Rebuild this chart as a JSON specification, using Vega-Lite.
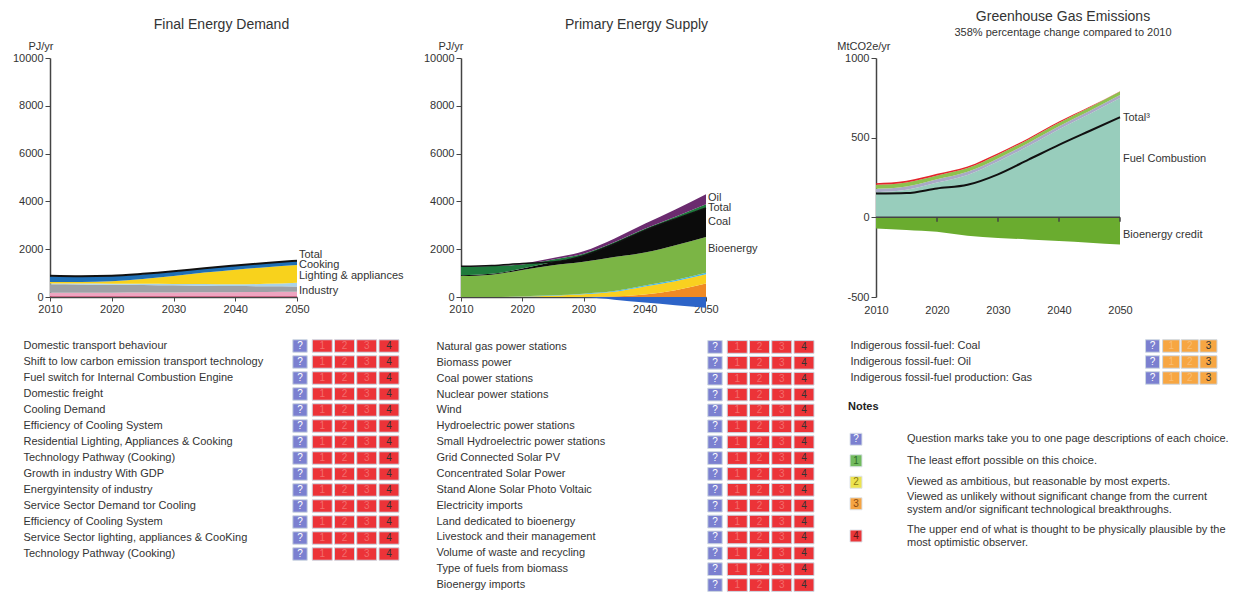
{
"$schema": "https://vega.github.io/schema/vega-lite/v6.json",
"background": "white",
"padding": {"left": 12, "top": 10, "right": 0, "bottom": 0},
"columns": 3,
"bounds": "flush",
"align": "each",
"spacing": {"row": 42, "column": 62},
"resolve": {"scale": {"color": "independent", "fill": "independent"}},
"config": {
  "font": "Liberation Sans",
  "view": {"stroke": null},
  "axis": {"labelFont": "Liberation Sans", "labelFontSize": 11, "labelColor": "#333333", "domainColor": "#444444", "tickColor": "#444444", "grid": false, "titleFont": "Liberation Sans", "titleFontWeight": "normal", "titleFontSize": 11, "titleColor": "#333333", "zindex": 1},
  "title": {"font": "Liberation Sans", "fontSize": 14, "fontWeight": "normal", "color": "#333333", "subtitleFont": "Liberation Sans", "subtitleColor": "#333333"},
  "text": {"font": "Liberation Sans"}
},
"datasets": {
  "fed": [
    {"series":"Transport","year":2010,"lo":0,"hi":30},{"series":"Transport","year":2015,"lo":0,"hi":30},{"series":"Transport","year":2020,"lo":0,"hi":30},{"series":"Transport","year":2025,"lo":0,"hi":30},{"series":"Transport","year":2030,"lo":0,"hi":30},{"series":"Transport","year":2035,"lo":0,"hi":30},{"series":"Transport","year":2040,"lo":0,"hi":30},{"series":"Transport","year":2045,"lo":0,"hi":30},{"series":"Transport","year":2050,"lo":0,"hi":30},
    {"series":"Industry","year":2010,"lo":30,"hi":180},{"series":"Industry","year":2015,"lo":30,"hi":180},{"series":"Industry","year":2020,"lo":30,"hi":180},{"series":"Industry","year":2025,"lo":30,"hi":185},{"series":"Industry","year":2030,"lo":30,"hi":190},{"series":"Industry","year":2035,"lo":30,"hi":195},{"series":"Industry","year":2040,"lo":30,"hi":200},{"series":"Industry","year":2045,"lo":30,"hi":210},{"series":"Industry","year":2050,"lo":30,"hi":220},
    {"series":"Industry other","year":2010,"lo":180,"hi":530},{"series":"Industry other","year":2015,"lo":180,"hi":520},{"series":"Industry other","year":2020,"lo":180,"hi":510},{"series":"Industry other","year":2025,"lo":185,"hi":505},{"series":"Industry other","year":2030,"lo":190,"hi":490},{"series":"Industry other","year":2035,"lo":195,"hi":475},{"series":"Industry other","year":2040,"lo":200,"hi":460},{"series":"Industry other","year":2045,"lo":210,"hi":450},{"series":"Industry other","year":2050,"lo":220,"hi":440},
    {"series":"Heating","year":2010,"lo":530,"hi":570},{"series":"Heating","year":2015,"lo":520,"hi":560},{"series":"Heating","year":2020,"lo":510,"hi":555},{"series":"Heating","year":2025,"lo":505,"hi":555},{"series":"Heating","year":2030,"lo":490,"hi":545},{"series":"Heating","year":2035,"lo":475,"hi":540},{"series":"Heating","year":2040,"lo":460,"hi":530},{"series":"Heating","year":2045,"lo":450,"hi":550},{"series":"Heating","year":2050,"lo":440,"hi":600},
    {"series":"Lighting & appliances","year":2010,"lo":570,"hi":630},{"series":"Lighting & appliances","year":2015,"lo":560,"hi":625},{"series":"Lighting & appliances","year":2020,"lo":555,"hi":655},{"series":"Lighting & appliances","year":2025,"lo":555,"hi":755},{"series":"Lighting & appliances","year":2030,"lo":545,"hi":880},{"series":"Lighting & appliances","year":2035,"lo":540,"hi":1020},{"series":"Lighting & appliances","year":2040,"lo":530,"hi":1145},{"series":"Lighting & appliances","year":2045,"lo":550,"hi":1250},{"series":"Lighting & appliances","year":2050,"lo":600,"hi":1340},
    {"series":"Cooking","year":2010,"lo":630,"hi":870},{"series":"Cooking","year":2015,"lo":625,"hi":855},{"series":"Cooking","year":2020,"lo":655,"hi":875},{"series":"Cooking","year":2025,"lo":755,"hi":955},{"series":"Cooking","year":2030,"lo":880,"hi":1060},{"series":"Cooking","year":2035,"lo":1020,"hi":1190},{"series":"Cooking","year":2040,"lo":1145,"hi":1305},{"series":"Cooking","year":2045,"lo":1250,"hi":1410},{"series":"Cooking","year":2050,"lo":1340,"hi":1505}
  ],
  "fedTotal": [
    {"year":2010,"value":885},{"year":2015,"value":868},{"year":2020,"value":888},{"year":2025,"value":968},{"year":2030,"value":1075},{"year":2035,"value":1205},{"year":2040,"value":1318},{"year":2045,"value":1423},{"year":2050,"value":1518}
  ],
  "fedLabels": [
    {"label":"Total","value":1743},{"label":"Cooking","value":1325},{"label":"Lighting & appliances","value":865},{"label":"Industry","value":250}
  ],
  "pes": [
    {"series":"Solar","year":2010,"lo":0,"hi":0},{"series":"Solar","year":2015,"lo":0,"hi":0},{"series":"Solar","year":2020,"lo":0,"hi":0},{"series":"Solar","year":2025,"lo":0,"hi":0},{"series":"Solar","year":2030,"lo":0,"hi":0},{"series":"Solar","year":2035,"lo":0,"hi":20},{"series":"Solar","year":2040,"lo":0,"hi":100},{"series":"Solar","year":2045,"lo":0,"hi":280},{"series":"Solar","year":2050,"lo":0,"hi":560},
    {"series":"Wind","year":2010,"lo":0,"hi":0},{"series":"Wind","year":2015,"lo":0,"hi":0},{"series":"Wind","year":2020,"lo":0,"hi":20},{"series":"Wind","year":2025,"lo":0,"hi":50},{"series":"Wind","year":2030,"lo":0,"hi":110},{"series":"Wind","year":2035,"lo":20,"hi":220},{"series":"Wind","year":2040,"lo":100,"hi":440},{"series":"Wind","year":2045,"lo":280,"hi":660},{"series":"Wind","year":2050,"lo":560,"hi":950},
    {"series":"Hydro","year":2010,"lo":0,"hi":0},{"series":"Hydro","year":2015,"lo":0,"hi":0},{"series":"Hydro","year":2020,"lo":20,"hi":30},{"series":"Hydro","year":2025,"lo":50,"hi":70},{"series":"Hydro","year":2030,"lo":110,"hi":140},{"series":"Hydro","year":2035,"lo":220,"hi":250},{"series":"Hydro","year":2040,"lo":440,"hi":480},{"series":"Hydro","year":2045,"lo":660,"hi":710},{"series":"Hydro","year":2050,"lo":950,"hi":1010},
    {"series":"Bioenergy","year":2010,"lo":0,"hi":875},{"series":"Bioenergy","year":2015,"lo":0,"hi":930},{"series":"Bioenergy","year":2020,"lo":30,"hi":1130},{"series":"Bioenergy","year":2025,"lo":70,"hi":1330},{"series":"Bioenergy","year":2030,"lo":140,"hi":1470},{"series":"Bioenergy","year":2035,"lo":250,"hi":1670},{"series":"Bioenergy","year":2040,"lo":480,"hi":1860},{"series":"Bioenergy","year":2045,"lo":710,"hi":2170},{"series":"Bioenergy","year":2050,"lo":1010,"hi":2510},
    {"series":"Coal","year":2010,"lo":875,"hi":915},{"series":"Coal","year":2015,"lo":930,"hi":970},{"series":"Coal","year":2020,"lo":1130,"hi":1190},{"series":"Coal","year":2025,"lo":1330,"hi":1460},{"series":"Coal","year":2030,"lo":1470,"hi":1730},{"series":"Coal","year":2035,"lo":1670,"hi":2220},{"series":"Coal","year":2040,"lo":1860,"hi":2790},{"series":"Coal","year":2045,"lo":2170,"hi":3270},{"series":"Coal","year":2050,"lo":2510,"hi":3730},
    {"series":"Gas","year":2010,"lo":915,"hi":1265},{"series":"Gas","year":2015,"lo":970,"hi":1300},{"series":"Gas","year":2020,"lo":1190,"hi":1360},{"series":"Gas","year":2025,"lo":1460,"hi":1570},{"series":"Gas","year":2030,"lo":1730,"hi":1810},{"series":"Gas","year":2035,"lo":2220,"hi":2290},{"series":"Gas","year":2040,"lo":2790,"hi":2860},{"series":"Gas","year":2045,"lo":3270,"hi":3360},{"series":"Gas","year":2050,"lo":3730,"hi":3880},
    {"series":"Oil","year":2010,"lo":1265,"hi":1285},{"series":"Oil","year":2015,"lo":1300,"hi":1320},{"series":"Oil","year":2020,"lo":1360,"hi":1400},{"series":"Oil","year":2025,"lo":1570,"hi":1630},{"series":"Oil","year":2030,"lo":1810,"hi":1910},{"series":"Oil","year":2035,"lo":2290,"hi":2440},{"series":"Oil","year":2040,"lo":2860,"hi":3060},{"series":"Oil","year":2045,"lo":3360,"hi":3660},{"series":"Oil","year":2050,"lo":3880,"hi":4300}
  ],
  "pesExports": [
    {"year":2010,"value":0},{"year":2015,"value":0},{"year":2020,"value":0},{"year":2025,"value":0},{"year":2030,"value":-15},{"year":2035,"value":-110},{"year":2040,"value":-230},{"year":2045,"value":-340},{"year":2050,"value":-450}
  ],
  "pesTotal": [
    {"year":2010,"value":1285},{"year":2015,"value":1320},{"year":2020,"value":1400},{"year":2025,"value":1460},{"year":2030,"value":1730},{"year":2035,"value":2220},{"year":2040,"value":2790},{"year":2045,"value":3270},{"year":2050,"value":3730}
  ],
  "pesLabels": [
    {"label":"Oil","value":4155},{"label":"Total","value":3710},{"label":"Coal","value":3138},{"label":"Bioenergy","value":1995}
  ],
  "ghg": [
    {"series":"Fuel Combustion","year":2010,"lo":0,"hi":158},{"series":"Fuel Combustion","year":2015,"lo":0,"hi":173},{"series":"Fuel Combustion","year":2020,"lo":0,"hi":218},{"series":"Fuel Combustion","year":2025,"lo":0,"hi":266},{"series":"Fuel Combustion","year":2030,"lo":0,"hi":350},{"series":"Fuel Combustion","year":2035,"lo":0,"hi":447},{"series":"Fuel Combustion","year":2040,"lo":0,"hi":553},{"series":"Fuel Combustion","year":2045,"lo":0,"hi":649},{"series":"Fuel Combustion","year":2050,"lo":0,"hi":749},
    {"series":"Industrial processes","year":2010,"lo":158,"hi":179},{"series":"Industrial processes","year":2015,"lo":173,"hi":194},{"series":"Industrial processes","year":2020,"lo":218,"hi":239},{"series":"Industrial processes","year":2025,"lo":266,"hi":286},{"series":"Industrial processes","year":2030,"lo":350,"hi":370},{"series":"Industrial processes","year":2035,"lo":447,"hi":467},{"series":"Industrial processes","year":2040,"lo":553,"hi":572},{"series":"Industrial processes","year":2045,"lo":649,"hi":668},{"series":"Industrial processes","year":2050,"lo":749,"hi":768},
    {"series":"Agriculture","year":2010,"lo":179,"hi":204},{"series":"Agriculture","year":2015,"lo":194,"hi":219},{"series":"Agriculture","year":2020,"lo":239,"hi":263},{"series":"Agriculture","year":2025,"lo":286,"hi":309},{"series":"Agriculture","year":2030,"lo":370,"hi":393},{"series":"Agriculture","year":2035,"lo":467,"hi":489},{"series":"Agriculture","year":2040,"lo":572,"hi":594},{"series":"Agriculture","year":2045,"lo":668,"hi":689},{"series":"Agriculture","year":2050,"lo":768,"hi":789},
    {"series":"Waste","year":2010,"lo":204,"hi":214},{"series":"Waste","year":2015,"lo":219,"hi":229},{"series":"Waste","year":2020,"lo":263,"hi":273},{"series":"Waste","year":2025,"lo":309,"hi":319},{"series":"Waste","year":2030,"lo":393,"hi":402},{"series":"Waste","year":2035,"lo":489,"hi":497},{"series":"Waste","year":2040,"lo":594,"hi":601},{"series":"Waste","year":2045,"lo":689,"hi":694},{"series":"Waste","year":2050,"lo":789,"hi":792}
  ],
  "ghgCredit": [
    {"year":2010,"value":-70},{"year":2015,"value":-80},{"year":2020,"value":-91},{"year":2025,"value":-116},{"year":2030,"value":-129},{"year":2035,"value":-139},{"year":2040,"value":-149},{"year":2045,"value":-160},{"year":2050,"value":-171}
  ],
  "ghgTotal": [
    {"year":2010,"value":149},{"year":2015,"value":152},{"year":2020,"value":181},{"year":2025,"value":204},{"year":2030,"value":270},{"year":2035,"value":362},{"year":2040,"value":455},{"year":2045,"value":542},{"year":2050,"value":628}
  ],
  "ghgLabels": [
    {"label":"Total³","value":624},{"label":"Fuel Combustion","value":364},{"label":"Bioenergy credit","value":-108}
  ],
  "t1": [
    {"item":"01|Domestic transport behaviour","box":"?"},{"item":"01|Domestic transport behaviour","box":"1"},{"item":"01|Domestic transport behaviour","box":"2"},{"item":"01|Domestic transport behaviour","box":"3"},{"item":"01|Domestic transport behaviour","box":"4"},
    {"item":"02|Shift to low carbon emission transport technology","box":"?"},{"item":"02|Shift to low carbon emission transport technology","box":"1"},{"item":"02|Shift to low carbon emission transport technology","box":"2"},{"item":"02|Shift to low carbon emission transport technology","box":"3"},{"item":"02|Shift to low carbon emission transport technology","box":"4"},
    {"item":"03|Fuel switch for Internal Combustion Engine","box":"?"},{"item":"03|Fuel switch for Internal Combustion Engine","box":"1"},{"item":"03|Fuel switch for Internal Combustion Engine","box":"2"},{"item":"03|Fuel switch for Internal Combustion Engine","box":"3"},{"item":"03|Fuel switch for Internal Combustion Engine","box":"4"},
    {"item":"04|Domestic freight","box":"?"},{"item":"04|Domestic freight","box":"1"},{"item":"04|Domestic freight","box":"2"},{"item":"04|Domestic freight","box":"3"},{"item":"04|Domestic freight","box":"4"},
    {"item":"05|Cooling Demand","box":"?"},{"item":"05|Cooling Demand","box":"1"},{"item":"05|Cooling Demand","box":"2"},{"item":"05|Cooling Demand","box":"3"},{"item":"05|Cooling Demand","box":"4"},
    {"item":"06|Efficiency of Cooling System","box":"?"},{"item":"06|Efficiency of Cooling System","box":"1"},{"item":"06|Efficiency of Cooling System","box":"2"},{"item":"06|Efficiency of Cooling System","box":"3"},{"item":"06|Efficiency of Cooling System","box":"4"},
    {"item":"07|Residential Lighting, Appliances & Cooking","box":"?"},{"item":"07|Residential Lighting, Appliances & Cooking","box":"1"},{"item":"07|Residential Lighting, Appliances & Cooking","box":"2"},{"item":"07|Residential Lighting, Appliances & Cooking","box":"3"},{"item":"07|Residential Lighting, Appliances & Cooking","box":"4"},
    {"item":"08|Technology Pathway (Cooking)","box":"?"},{"item":"08|Technology Pathway (Cooking)","box":"1"},{"item":"08|Technology Pathway (Cooking)","box":"2"},{"item":"08|Technology Pathway (Cooking)","box":"3"},{"item":"08|Technology Pathway (Cooking)","box":"4"},
    {"item":"09|Growth in industry With GDP","box":"?"},{"item":"09|Growth in industry With GDP","box":"1"},{"item":"09|Growth in industry With GDP","box":"2"},{"item":"09|Growth in industry With GDP","box":"3"},{"item":"09|Growth in industry With GDP","box":"4"},
    {"item":"10|Energyintensity of industry","box":"?"},{"item":"10|Energyintensity of industry","box":"1"},{"item":"10|Energyintensity of industry","box":"2"},{"item":"10|Energyintensity of industry","box":"3"},{"item":"10|Energyintensity of industry","box":"4"},
    {"item":"11|Service Sector Demand tor Cooling","box":"?"},{"item":"11|Service Sector Demand tor Cooling","box":"1"},{"item":"11|Service Sector Demand tor Cooling","box":"2"},{"item":"11|Service Sector Demand tor Cooling","box":"3"},{"item":"11|Service Sector Demand tor Cooling","box":"4"},
    {"item":"12|Efficiency of Cooling System","box":"?"},{"item":"12|Efficiency of Cooling System","box":"1"},{"item":"12|Efficiency of Cooling System","box":"2"},{"item":"12|Efficiency of Cooling System","box":"3"},{"item":"12|Efficiency of Cooling System","box":"4"},
    {"item":"13|Service Sector lighting, appliances & CooKing","box":"?"},{"item":"13|Service Sector lighting, appliances & CooKing","box":"1"},{"item":"13|Service Sector lighting, appliances & CooKing","box":"2"},{"item":"13|Service Sector lighting, appliances & CooKing","box":"3"},{"item":"13|Service Sector lighting, appliances & CooKing","box":"4"},
    {"item":"14|Technology Pathway (Cooking)","box":"?"},{"item":"14|Technology Pathway (Cooking)","box":"1"},{"item":"14|Technology Pathway (Cooking)","box":"2"},{"item":"14|Technology Pathway (Cooking)","box":"3"},{"item":"14|Technology Pathway (Cooking)","box":"4"}
  ],
  "t2": [
    {"item":"01|Natural gas power stations","box":"?"},{"item":"01|Natural gas power stations","box":"1"},{"item":"01|Natural gas power stations","box":"2"},{"item":"01|Natural gas power stations","box":"3"},{"item":"01|Natural gas power stations","box":"4"},
    {"item":"02|Biomass power","box":"?"},{"item":"02|Biomass power","box":"1"},{"item":"02|Biomass power","box":"2"},{"item":"02|Biomass power","box":"3"},{"item":"02|Biomass power","box":"4"},
    {"item":"03|Coal power stations","box":"?"},{"item":"03|Coal power stations","box":"1"},{"item":"03|Coal power stations","box":"2"},{"item":"03|Coal power stations","box":"3"},{"item":"03|Coal power stations","box":"4"},
    {"item":"04|Nuclear power stations","box":"?"},{"item":"04|Nuclear power stations","box":"1"},{"item":"04|Nuclear power stations","box":"2"},{"item":"04|Nuclear power stations","box":"3"},{"item":"04|Nuclear power stations","box":"4"},
    {"item":"05|Wind","box":"?"},{"item":"05|Wind","box":"1"},{"item":"05|Wind","box":"2"},{"item":"05|Wind","box":"3"},{"item":"05|Wind","box":"4"},
    {"item":"06|Hydroelectric power stations","box":"?"},{"item":"06|Hydroelectric power stations","box":"1"},{"item":"06|Hydroelectric power stations","box":"2"},{"item":"06|Hydroelectric power stations","box":"3"},{"item":"06|Hydroelectric power stations","box":"4"},
    {"item":"07|Small Hydroelectric power stations","box":"?"},{"item":"07|Small Hydroelectric power stations","box":"1"},{"item":"07|Small Hydroelectric power stations","box":"2"},{"item":"07|Small Hydroelectric power stations","box":"3"},{"item":"07|Small Hydroelectric power stations","box":"4"},
    {"item":"08|Grid Connected Solar PV","box":"?"},{"item":"08|Grid Connected Solar PV","box":"1"},{"item":"08|Grid Connected Solar PV","box":"2"},{"item":"08|Grid Connected Solar PV","box":"3"},{"item":"08|Grid Connected Solar PV","box":"4"},
    {"item":"09|Concentrated Solar Power","box":"?"},{"item":"09|Concentrated Solar Power","box":"1"},{"item":"09|Concentrated Solar Power","box":"2"},{"item":"09|Concentrated Solar Power","box":"3"},{"item":"09|Concentrated Solar Power","box":"4"},
    {"item":"10|Stand Alone Solar Photo Voltaic","box":"?"},{"item":"10|Stand Alone Solar Photo Voltaic","box":"1"},{"item":"10|Stand Alone Solar Photo Voltaic","box":"2"},{"item":"10|Stand Alone Solar Photo Voltaic","box":"3"},{"item":"10|Stand Alone Solar Photo Voltaic","box":"4"},
    {"item":"11|Electricity imports","box":"?"},{"item":"11|Electricity imports","box":"1"},{"item":"11|Electricity imports","box":"2"},{"item":"11|Electricity imports","box":"3"},{"item":"11|Electricity imports","box":"4"},
    {"item":"12|Land dedicated to bioenergy","box":"?"},{"item":"12|Land dedicated to bioenergy","box":"1"},{"item":"12|Land dedicated to bioenergy","box":"2"},{"item":"12|Land dedicated to bioenergy","box":"3"},{"item":"12|Land dedicated to bioenergy","box":"4"},
    {"item":"13|Livestock and their management","box":"?"},{"item":"13|Livestock and their management","box":"1"},{"item":"13|Livestock and their management","box":"2"},{"item":"13|Livestock and their management","box":"3"},{"item":"13|Livestock and their management","box":"4"},
    {"item":"14|Volume of waste and recycling","box":"?"},{"item":"14|Volume of waste and recycling","box":"1"},{"item":"14|Volume of waste and recycling","box":"2"},{"item":"14|Volume of waste and recycling","box":"3"},{"item":"14|Volume of waste and recycling","box":"4"},
    {"item":"15|Type of fuels from biomass","box":"?"},{"item":"15|Type of fuels from biomass","box":"1"},{"item":"15|Type of fuels from biomass","box":"2"},{"item":"15|Type of fuels from biomass","box":"3"},{"item":"15|Type of fuels from biomass","box":"4"},
    {"item":"16|Bioenergy imports","box":"?"},{"item":"16|Bioenergy imports","box":"1"},{"item":"16|Bioenergy imports","box":"2"},{"item":"16|Bioenergy imports","box":"3"},{"item":"16|Bioenergy imports","box":"4"}
  ],
  "t3": [
    {"item":"1|Indigerous fossil-fuel: Coal","box":"?"},{"item":"1|Indigerous fossil-fuel: Coal","box":"1"},{"item":"1|Indigerous fossil-fuel: Coal","box":"2"},{"item":"1|Indigerous fossil-fuel: Coal","box":"3"},
    {"item":"2|Indigerous fossil-fuel: Oil","box":"?"},{"item":"2|Indigerous fossil-fuel: Oil","box":"1"},{"item":"2|Indigerous fossil-fuel: Oil","box":"2"},{"item":"2|Indigerous fossil-fuel: Oil","box":"3"},
    {"item":"3|Indigerous fossil-fuel production: Gas","box":"?"},{"item":"3|Indigerous fossil-fuel production: Gas","box":"1"},{"item":"3|Indigerous fossil-fuel production: Gas","box":"2"},{"item":"3|Indigerous fossil-fuel production: Gas","box":"3"}
  ],
  "notes": [
    {"key":"?","desc":"Question marks take you to one page descriptions of each choice."},
    {"key":"1","desc":"The least effort possible on this choice."},
    {"key":"2","desc":"Viewed as ambitious, but reasonable by most experts."},
    {"key":"3","desc":"Viewed as unlikely without significant change from the current\nsystem and/or significant technological breakthroughs."},
    {"key":"4","desc":"The upper end of what is thought to be physically plausible by the\nmost optimistic observer."}
  ]
},
"concat": [
  {
    "width": 247, "height": 239,
    "title": {"text": "Final Energy Demand", "anchor": "middle", "frame": "group", "dx": 48, "offset": 8},
    "layer": [
      {"data": {"name": "fed"}, "mark": {"type": "area", "interpolate": "monotone"},
       "encoding": {
         "x": {"field": "year", "type": "quantitative", "scale": {"domain": [2010, 2050], "nice": false, "zero": false},
               "axis": {"values": [2010, 2020, 2030, 2040, 2050], "format": "d", "title": null, "tickSize": 4, "labelPadding": 2, "labelFlush": false, "domainWidth": 1.5}},
         "y": {"field": "hi", "type": "quantitative", "scale": {"domain": [0, 10000], "nice": false},
               "axis": {"values": [0, 2000, 4000, 6000, 8000, 10000], "format": "d", "title": "PJ/yr", "titleAngle": 0, "titleAlign": "right", "titleBaseline": "alphabetic", "titleX": 3, "titleY": -9, "tickSize": 5, "labelPadding": 2, "domainWidth": 1.5}},
         "y2": {"field": "lo"},
         "color": {"field": "series", "type": "nominal",
                   "scale": {"domain": ["Transport", "Industry", "Industry other", "Heating", "Lighting & appliances", "Cooking"], "range": ["#b3264f", "#eea4c0", "#9da1a6", "#a9d2e8", "#f8d21c", "#1f6fb5"]}, "legend": null}
       }},
      {"data": {"name": "fedTotal"}, "mark": {"type": "line", "color": "#111111", "strokeWidth": 2, "interpolate": "monotone"},
       "encoding": {"x": {"field": "year", "type": "quantitative"}, "y": {"field": "value", "type": "quantitative"}}},
      {"data": {"name": "fedLabels"}, "mark": {"type": "text", "align": "left", "baseline": "middle", "dx": 2, "fontSize": 11, "color": "#333333"},
       "encoding": {"x": {"datum": 2050, "type": "quantitative"}, "y": {"field": "value", "type": "quantitative"}, "text": {"field": "label", "type": "nominal"}}}
    ]
  },
  {
    "width": 245, "height": 239,
    "title": {"text": "Primary Energy Supply", "anchor": "middle", "frame": "group", "dx": 53, "offset": 8},
    "layer": [
      {"data": {"name": "pes"}, "mark": {"type": "area", "interpolate": "monotone"},
       "encoding": {
         "x": {"field": "year", "type": "quantitative", "scale": {"domain": [2010, 2050], "nice": false, "zero": false},
               "axis": {"values": [2010, 2020, 2030, 2040, 2050], "format": "d", "title": null, "tickSize": 4, "labelPadding": 2, "labelFlush": false, "domainWidth": 1.5}},
         "y": {"field": "hi", "type": "quantitative", "scale": {"domain": [0, 10000], "nice": false},
               "axis": {"values": [0, 2000, 4000, 6000, 8000, 10000], "format": "d", "title": "PJ/yr", "titleAngle": 0, "titleAlign": "right", "titleBaseline": "alphabetic", "titleX": 2, "titleY": -9, "tickSize": 5, "labelPadding": 2, "domainWidth": 1.5}},
         "y2": {"field": "lo"},
         "color": {"field": "series", "type": "nominal",
                   "scale": {"domain": ["Solar", "Wind", "Hydro", "Bioenergy", "Coal", "Gas", "Oil"], "range": ["#f08a24", "#f9d020", "#41b6e6", "#7bb545", "#0b0b0b", "#1f7a3c", "#6b2b6f"]}, "legend": null}
       }},
      {"data": {"name": "pesExports"}, "mark": {"type": "area", "interpolate": "monotone", "color": "#2d64c8"},
       "encoding": {"x": {"field": "year", "type": "quantitative"}, "y": {"field": "value", "type": "quantitative"}, "y2": {"datum": 0}}},
      {"data": {"name": "pesTotal"}, "mark": {"type": "line", "color": "#111111", "strokeWidth": 1.5, "interpolate": "monotone"},
       "encoding": {"x": {"field": "year", "type": "quantitative"}, "y": {"field": "value", "type": "quantitative"}}},
      {"data": {"name": "pesLabels"}, "mark": {"type": "text", "align": "left", "baseline": "middle", "dx": 2, "fontSize": 11, "color": "#333333"},
       "encoding": {"x": {"datum": 2050, "type": "quantitative"}, "y": {"field": "value", "type": "quantitative"}, "text": {"field": "label", "type": "nominal"}}}
    ]
  },
  {
    "width": 244, "height": 239,
    "title": {"text": "Greenhouse Gas Emissions", "subtitle": "358% percentage change compared to 2010", "subtitleFontSize": 11, "subtitlePadding": 3, "anchor": "middle", "frame": "group", "dx": 65, "offset": 2},
    "layer": [
      {"data": {"name": "ghg"}, "mark": {"type": "area", "interpolate": "monotone"},
       "encoding": {
         "x": {"field": "year", "type": "quantitative", "scale": {"domain": [2010, 2050], "nice": false, "zero": false},
               "axis": {"values": [2010, 2020, 2030, 2040, 2050], "format": "d", "title": null, "domain": false, "ticks": false, "labelPadding": 7, "labelFlush": false}},
         "y": {"field": "hi", "type": "quantitative", "scale": {"domain": [-500, 1000], "nice": false},
               "axis": {"values": [-500, 0, 500, 1000], "labelExpr": "toString(datum.value)", "title": "MtCO2e/yr", "titleAngle": 0, "titleAlign": "right", "titleBaseline": "alphabetic", "titleX": 14, "titleY": -9, "tickSize": 5, "labelPadding": 2, "domainWidth": 1.5}},
         "y2": {"field": "lo"},
         "color": {"field": "series", "type": "nominal",
                   "scale": {"domain": ["Fuel Combustion", "Industrial processes", "Agriculture", "Waste"], "range": ["#98cdbc", "#a9a9c6", "#8dc24f", "#e3262b"]}, "legend": null}
       }},
      {"data": {"name": "ghgCredit"}, "mark": {"type": "area", "interpolate": "monotone", "color": "#6aac2f"},
       "encoding": {"x": {"field": "year", "type": "quantitative"}, "y": {"field": "value", "type": "quantitative"}, "y2": {"datum": 0}}},
      {"data": {"values": [{"v": 0}]}, "mark": {"type": "rule", "color": "#444444", "strokeWidth": 1.5},
       "encoding": {"y": {"field": "v", "type": "quantitative"}}},
      {"data": {"values": [{"year": 2020}, {"year": 2030}, {"year": 2040}, {"year": 2050}]}, "mark": {"type": "rule", "color": "#444444", "strokeWidth": 1.5},
       "encoding": {"x": {"field": "year", "type": "quantitative"}, "y": {"datum": 0}, "y2": {"datum": -28}}},
      {"data": {"name": "ghgTotal"}, "mark": {"type": "line", "color": "#111111", "strokeWidth": 2, "interpolate": "monotone"},
       "encoding": {"x": {"field": "year", "type": "quantitative"}, "y": {"field": "value", "type": "quantitative"}}},
      {"data": {"name": "ghgLabels"}, "mark": {"type": "text", "align": "left", "baseline": "middle", "dx": 3, "fontSize": 11, "color": "#333333"},
       "encoding": {"x": {"datum": 2050, "type": "quantitative"}, "y": {"field": "value", "type": "quantitative"}, "text": {"field": "label", "type": "nominal"}}}
    ]
  },
  {
    "width": 349, "height": 222,
    "data": {"name": "t1"},
    "encoding": {
      "x": {"field": "box", "type": "nominal", "scale": {"domain": ["?", "1", "2", "3", "4"], "range": [240, 349], "paddingInner": 0.1, "paddingOuter": 0}, "axis": null},
      "y": {"field": "item", "type": "nominal", "scale": {"paddingInner": 0.22, "paddingOuter": 0.047},
            "axis": {"domain": false, "ticks": false, "labelAlign": "left", "labelPadding": 27, "labelLimit": 400, "labelExpr": "split(datum.label, '|')[1]", "title": null}}
    },
    "layer": [
      {"transform": [{"filter": {"field": "box", "equal": "?"}}],
       "mark": {"type": "rect", "width": {"band": 0.72}, "stroke": "#cdd7e2", "strokeWidth": 1, "fill": "#7b80d0"}},
      {"transform": [{"filter": {"not": {"field": "box", "equal": "?"}}}],
       "mark": {"type": "rect", "stroke": "#cdd7e2", "strokeWidth": 1, "fill": "#ec3338"}},
      {"mark": {"type": "text", "fontSize": 10, "baseline": "middle"},
       "encoding": {"text": {"field": "box", "type": "nominal"}, "color": {"field": "box", "type": "nominal", "scale": {"domain": ["?", "1", "2", "3", "4"], "range": ["#ffffff", "#f26d6d", "#f26d6d", "#f26d6d", "#333333"]}, "legend": null}}}
    ]
  },
  {
    "width": 353, "height": 254,
    "data": {"name": "t2"},
    "encoding": {
      "x": {"field": "box", "type": "nominal", "scale": {"domain": ["?", "1", "2", "3", "4"], "range": [244, 353], "paddingInner": 0.1, "paddingOuter": 0}, "axis": null},
      "y": {"field": "item", "type": "nominal", "scale": {"paddingInner": 0.2, "paddingOuter": 0.1},
            "axis": {"domain": false, "ticks": false, "labelAlign": "left", "labelPadding": 25, "labelLimit": 400, "labelExpr": "split(datum.label, '|')[1]", "title": null}}
    },
    "layer": [
      {"transform": [{"filter": {"field": "box", "equal": "?"}}],
       "mark": {"type": "rect", "width": {"band": 0.72}, "stroke": "#cdd7e2", "strokeWidth": 1, "fill": "#7b80d0"}},
      {"transform": [{"filter": {"not": {"field": "box", "equal": "?"}}}],
       "mark": {"type": "rect", "stroke": "#cdd7e2", "strokeWidth": 1, "fill": "#ec3338"}},
      {"mark": {"type": "text", "fontSize": 10, "baseline": "middle"},
       "encoding": {"text": {"field": "box", "type": "nominal"}, "color": {"field": "box", "type": "nominal", "scale": {"domain": ["?", "1", "2", "3", "4"], "range": ["#ffffff", "#f26d6d", "#f26d6d", "#f26d6d", "#333333"]}, "legend": null}}}
    ]
  },
  {
    "width": 341, "height": 46,
    "layer": [
      {
        "data": {"name": "t3"},
        "encoding": {
          "x": {"field": "box", "type": "nominal", "scale": {"domain": ["?", "1", "2", "3"], "range": [268, 341], "paddingInner": 0.08, "paddingOuter": 0}, "axis": null},
          "y": {"field": "item", "type": "nominal", "scale": {"paddingInner": 0.22, "paddingOuter": 0.047},
                "axis": {"domain": false, "ticks": false, "labelAlign": "left", "labelPadding": 26, "labelLimit": 400, "labelExpr": "split(datum.label, '|')[1]", "title": null}}
        },
        "layer": [
          {"transform": [{"filter": {"field": "box", "equal": "?"}}],
           "mark": {"type": "rect", "width": {"band": 0.82}, "stroke": "#cdd7e2", "strokeWidth": 1, "fill": "#7b80d0"}},
          {"transform": [{"filter": {"not": {"field": "box", "equal": "?"}}}],
           "mark": {"type": "rect", "stroke": "#cdd7e2", "strokeWidth": 1, "fill": "#f7a642"}},
          {"mark": {"type": "text", "fontSize": 10, "baseline": "middle"},
           "encoding": {"text": {"field": "box", "type": "nominal"}, "color": {"field": "box", "type": "nominal", "scale": {"domain": ["?", "1", "2", "3"], "range": ["#ffffff", "#f9bd74", "#f9bd74", "#333333"]}, "legend": null}}}
        ]
      },
      {
        "data": {"name": "notes"},
        "layer": [
          {"mark": {"type": "square", "size": 144, "filled": true, "opacity": 1, "stroke": "#dde3ea", "strokeWidth": 1},
           "encoding": {
             "x": {"datum": "box", "type": "nominal", "scale": {"type": "point", "domain": ["box", "desc"], "range": [-20, 31], "padding": 0}, "axis": null},
             "y": {"field": "key", "type": "nominal", "scale": {"type": "point", "domain": ["Notes", "n1", "n2", "?", "s1", "1", "s2", "2", "s3", "3", "s4", "s5", "4"], "range": [68, 197], "padding": 0}, "axis": null},
             "fill": {"field": "key", "type": "nominal", "scale": {"domain": ["?", "1", "2", "3", "4"], "range": ["#7b80d0", "#72bb5f", "#ece34f", "#f5a443", "#ea3639"]}, "legend": null}
           }},
          {"mark": {"type": "text", "fontSize": 10, "baseline": "middle"},
           "encoding": {
             "x": {"datum": "box", "type": "nominal"},
             "y": {"field": "key", "type": "nominal"},
             "text": {"field": "key", "type": "nominal"},
             "color": {"field": "key", "type": "nominal", "scale": {"domain": ["?", "1", "2", "3", "4"], "range": ["#ffffff", "#2f6b2a", "#8a7a10", "#8a4a10", "#5a1515"]}, "legend": null}
           }},
          {"transform": [{"filter": {"not": {"field": "key", "oneOf": ["3", "4"]}}}],
           "mark": {"type": "text", "align": "left", "baseline": "middle", "fontSize": 11, "color": "#333333"},
           "encoding": {
             "x": {"datum": "desc", "type": "nominal"},
             "y": {"field": "key", "type": "nominal"},
             "text": {"field": "desc", "type": "nominal"}
           }},
          {"transform": [{"filter": {"field": "key", "oneOf": ["3", "4"]}}],
           "mark": {"type": "text", "align": "left", "baseline": "middle", "fontSize": 11, "lineBreak": "\n", "lineHeight": 13, "dy": -6.5, "color": "#333333"},
           "encoding": {
             "x": {"datum": "desc", "type": "nominal"},
             "y": {"field": "key", "type": "nominal"},
             "text": {"field": "desc", "type": "nominal"}
           }},
          {"data": {"values": [{"key": "Notes"}]}, "mark": {"type": "text", "align": "left", "baseline": "middle", "fontSize": 11, "fontWeight": "bold", "dx": -8, "color": "#222222"},
           "encoding": {
             "x": {"datum": "box", "type": "nominal"},
             "y": {"field": "key", "type": "nominal"},
             "text": {"field": "key", "type": "nominal"}
           }}
        ]
      }
    ],
    "resolve": {"scale": {"x": "independent", "y": "independent", "fill": "independent", "color": "independent"}, "axis": {"x": "independent", "y": "independent"}}
  }
]
}
